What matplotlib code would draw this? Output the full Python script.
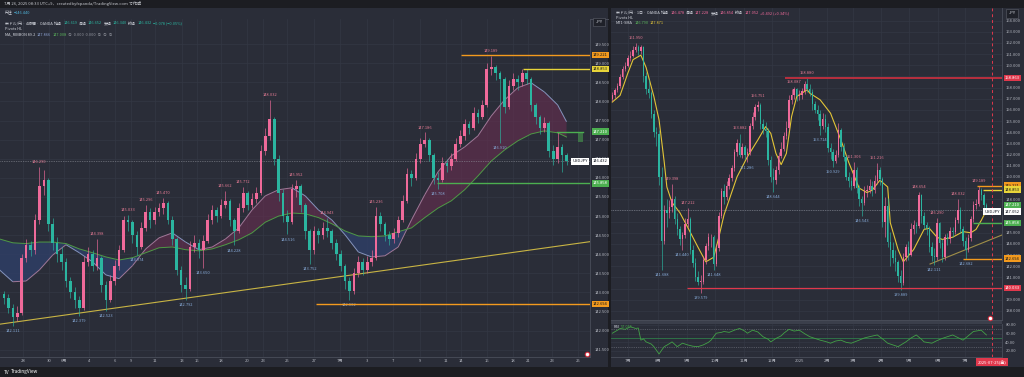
import numpy as np
import matplotlib.pyplot as plt
from matplotlib.collections import LineCollection
from matplotlib.patches import Rectangle
from matplotlib.ticker import FormatStrFormatter

plt.rcParams['font.family'] = ['Noto Sans CJK JP', 'DejaVu Sans']

# ---------------- 4h chart (left) ----------------
left_open0 = 142.95
left_close = [142.85, 142.60, 142.35, 142.45, 143.90, 144.25, 144.10, 144.90, 145.80, 145.95,
              144.80, 144.30, 144.00, 143.80, 143.30, 143.00, 142.80, 142.60, 143.80, 144.00,
              143.70, 143.90, 143.20, 142.80, 143.30, 143.70, 144.10, 144.90, 144.85, 144.50,
              144.20, 144.70, 145.10, 144.90, 145.10, 145.20, 145.35, 144.90, 144.40, 143.60,
              143.20, 143.10, 144.20, 144.30, 144.10, 144.35, 144.90, 145.15, 145.00, 145.30,
              145.40, 144.90, 144.60, 145.20, 145.60, 145.30, 145.45, 145.60, 146.70, 147.10,
              147.55, 146.50, 145.60, 145.00, 144.85, 145.70, 145.80, 145.30, 144.60, 144.10,
              144.60, 144.50, 144.70, 144.60, 144.30, 144.00, 143.70, 143.30, 143.05, 143.50,
              143.80, 143.60, 143.80, 143.90, 145.00, 144.80, 144.50, 144.40, 144.55, 144.90,
              145.40, 146.10, 146.00, 146.50, 146.90, 147.00, 146.60, 146.00, 145.95, 146.40,
              146.30, 146.50, 146.90, 147.10, 147.40, 147.30, 147.70, 147.60, 147.90, 148.85,
              148.90, 148.75, 148.60, 147.85, 148.40, 148.60, 148.50, 148.75, 148.60, 147.90,
              147.60, 147.30, 147.45, 146.70, 146.50, 146.80, 146.60, 146.43]
left_high = [143.05, 142.95, 142.70, 142.65, 144.00, 144.40, 144.35, 145.05, 146.29, 146.20,
             146.00, 144.95, 144.45, 144.20, 143.90, 143.40, 143.15, 142.90, 143.95, 144.20,
             144.10, 144.40, 143.95, 143.30, 143.45, 143.85, 144.25, 145.00, 145.03, 144.90,
             144.60, 144.85, 145.30, 145.20, 145.25, 145.35, 145.47, 145.40, 145.00, 144.45,
             143.70, 143.40, 144.35, 144.50, 144.40, 144.50, 145.05, 145.30, 145.25, 145.45,
             145.66, 145.45, 144.95, 145.35, 145.77, 145.65, 145.60, 145.75, 146.85, 147.30,
             148.03, 147.60, 146.60, 145.70, 145.15, 145.85, 145.95, 145.85, 145.35, 144.65,
             144.75, 144.70, 144.85, 144.94, 144.65, 144.40, 144.10, 143.75, 143.40, 143.65,
             143.95, 143.90, 143.95, 144.10, 145.24, 145.10, 144.85, 144.60, 144.70, 145.00,
             145.55, 146.25, 146.20, 146.65, 147.05, 147.19, 147.05, 146.65, 146.15, 146.55,
             146.50, 146.65, 147.05, 147.25, 147.55, 147.50, 147.85, 147.80, 148.05, 149.00,
             149.19, 148.95, 148.80, 148.65, 148.55, 148.75, 148.70, 148.85, 148.85, 148.65,
             147.95, 147.65, 147.60, 147.50, 146.85, 147.20, 146.90, 146.65]
left_low = [142.70, 142.45, 142.11, 142.25, 142.40, 143.80, 143.95, 144.00, 144.80, 145.55,
            144.60, 144.10, 143.80, 143.60, 143.15, 142.85, 142.60, 142.38, 142.55, 143.70,
            143.55, 143.60, 143.00, 142.52, 142.75, 143.20, 143.60, 144.05, 144.60, 144.30,
            143.97, 144.15, 144.60, 144.70, 144.80, 145.00, 145.05, 144.80, 144.25, 143.45,
            143.00, 142.79, 143.05, 144.05, 143.90, 143.65, 144.30, 144.80, 144.85, 144.95,
            145.20, 144.75, 144.23, 144.55, 145.10, 145.15, 145.20, 145.35, 145.55, 146.60,
            147.00, 146.35, 145.40, 144.85, 144.52, 144.80, 145.50, 145.10, 144.40, 143.75,
            144.00, 144.30, 144.40, 144.45, 144.15, 143.85, 143.55, 143.10, 142.80, 142.95,
            143.40, 143.45, 143.50, 143.70, 143.85, 144.60, 144.35, 144.25, 144.30, 144.45,
            144.85, 145.35, 145.80, 145.95, 146.40, 146.80, 146.45, 145.85, 145.71, 145.90,
            146.15, 146.20, 146.45, 146.80, 147.00, 147.15, 147.25, 147.45, 147.55, 147.85,
            148.70, 148.55, 146.91, 147.70, 147.80, 148.30, 148.30, 148.40, 148.45, 147.75,
            147.40, 147.15, 147.20, 146.55, 146.35, 146.40, 146.15, 146.34]
left_pivot_hi = [(8, 146.290), (21, 144.398), (28, 145.033), (32, 145.296), (36, 145.470),
                 (50, 145.662), (54, 145.772), (60, 148.032), (66, 145.952), (73, 144.943),
                 (84, 145.236), (95, 147.186), (110, 149.189)]
left_pivot_lo = [(2, 142.111), (17, 142.379), (23, 142.523), (30, 143.974), (41, 142.792),
                 (45, 143.650), (52, 144.228), (64, 144.516), (69, 143.752), (78, 142.802),
                 (98, 145.708), (112, 146.910)]
left_ma_pos = [-1, 2, 5, 8, 11, 14, 17, 20, 23, 26, 29, 32, 35, 38, 41, 44, 47, 50, 53, 56, 59, 62,
               65, 68, 71, 74, 77, 80, 83, 86, 89, 92, 95, 98, 101, 104, 107, 110, 113, 116, 119,
               122, 125, 127]
left_ma_fast = [143.59, 143.28, 143.30, 143.59, 143.98, 144.25, 144.04, 143.80, 143.46, 143.36,
                143.70, 144.14, 144.43, 144.56, 144.32, 144.12, 144.19, 144.40, 144.69, 145.16,
                145.53, 145.69, 145.74, 145.53, 145.16, 144.90, 144.51, 144.06, 143.93, 143.96,
                144.19, 144.90, 145.56, 146.16, 146.58, 146.81, 147.10, 147.62, 148.04, 148.36,
                148.49, 148.25, 147.91, 147.47]
left_ma_slow = [144.40, 144.30, 144.28, 144.32, 144.32, 144.28, 144.14, 144.04, 143.93, 143.85,
                143.91, 144.04, 144.17, 144.19, 144.12, 144.09, 144.14, 144.25, 144.38, 144.56,
                144.84, 145.00, 145.08, 145.06, 144.96, 144.80, 144.61, 144.48, 144.46, 144.48,
                144.59, 144.69, 144.96, 145.21, 145.40, 145.69, 146.05, 146.44, 146.73, 146.97,
                147.15, 147.23, 147.18, 147.07]
left_tick_pos = [4.3, 10.2, 13.5, 19.2, 25.1, 28.7, 34.1, 40.2, 43.6, 49.0, 54.9, 58.5, 63.9,
                 70.0, 75.8, 81.9, 87.8, 93.9, 99.8, 103.2, 109.0, 114.9, 118.3, 123.7, 129.6]
left_tick_labels = ['28', '30', '6月', '4', '6', '9', '11', '13', '16', '18', '20', '23', '25',
                    '27', '7月', '3', '7', '9', '11', '14', '16', '18', '21', '23', '25']
left_trend = [(-0.9, 142.17), (132.3, 144.33)]
left_last = 146.432

# ---------------- daily chart (right) ----------------
right_open0 = 157.0
right_close = [157.30, 157.80, 158.10, 158.90, 159.70, 159.90, 160.60, 160.80, 161.40, 161.60,
               161.30, 161.60, 159.00, 157.90, 157.50, 155.60, 154.00, 153.80, 150.00, 144.30,
               147.00, 146.80, 147.30, 148.00, 146.20, 145.30, 144.40, 144.80, 145.80, 146.20,
               143.50, 142.30, 141.00, 140.60, 140.60, 142.60, 143.80, 144.60, 144.60, 142.20,
               143.60, 146.50, 148.70, 148.20, 149.20, 149.90, 150.80, 152.20, 153.00, 152.00,
               152.70, 152.00, 152.20, 154.60, 155.40, 156.30, 156.40, 154.70, 154.30, 154.10,
               151.50, 150.00, 149.70, 150.60, 151.90, 152.50, 153.70, 154.40, 156.90, 157.30,
               157.90, 157.20, 157.30, 157.70, 158.30, 157.90, 157.60, 156.50, 156.00, 155.60,
               154.60, 155.20, 154.50, 152.60, 152.20, 151.40, 152.00, 154.20, 152.70, 151.80,
               150.00, 149.60, 149.20, 150.60, 149.00, 148.00, 147.70, 148.70, 148.80, 149.20,
               148.80, 149.60, 150.60, 149.80, 146.00, 147.40, 144.20, 143.50, 142.70, 142.40,
               141.10, 140.50, 142.80, 143.70, 143.00, 145.30, 145.70, 145.60, 148.40, 146.50,
               145.70, 145.40, 143.70, 142.90, 142.80, 145.90, 144.10, 142.80, 144.60, 144.40,
               145.20, 145.10, 146.10, 147.00, 145.30, 144.30, 143.50, 144.50, 146.20, 147.50,
               147.60, 148.80, 148.40, 147.50, 147.05]
right_high = [157.6, 158.0, 158.4, 159.2, 159.9, 160.3, 160.9, 161.3, 161.7, 161.95,
              161.8, 161.8, 161.7, 159.4, 158.8, 157.7, 156.0, 154.5, 154.2, 150.9,
              147.5, 148.0, 147.9, 149.40, 148.3, 146.8, 145.6, 145.1, 146.3, 147.21,
              146.4, 143.9, 142.7, 141.6, 141.2, 142.9, 144.1, 145.0, 144.9, 144.8,
              144.0, 146.9, 149.0, 149.4, 149.6, 150.3, 151.1, 152.5, 153.4, 153.88,
              153.0, 152.9, 152.6, 154.8, 155.8, 156.5, 156.75, 156.6, 155.2, 154.9,
              154.4, 151.9, 150.8, 151.0, 152.2, 153.1, 154.0, 155.0, 157.3, 157.9,
              158.09, 158.0, 157.8, 158.0, 158.6, 158.88, 158.3, 157.9, 156.8, 156.4,
              156.0, 155.7, 155.6, 154.8, 153.0, 152.5, 152.4, 154.8, 154.4, 153.0,
              152.0, 150.4, 150.0, 151.31, 150.9, 149.3, 148.3, 149.2, 149.3, 149.8,
              149.6, 150.2, 151.21, 150.9, 150.0, 148.2, 148.1, 145.1, 144.2, 143.5,
              142.6, 141.7, 143.2, 144.0, 144.3, 145.9, 146.1, 146.0, 148.65, 148.5,
              146.9, 146.0, 145.6, 144.2, 143.6, 146.29, 146.0, 144.4, 144.9, 145.0,
              145.5, 145.5, 146.4, 148.03, 147.3, 145.6, 144.6, 144.9, 146.5, 147.8,
              148.0, 149.19, 149.0, 148.6, 147.7]
right_low = [156.8, 157.1, 157.6, 158.0, 158.8, 159.5, 159.8, 160.4, 160.7, 161.2,
             160.9, 161.0, 158.5, 157.4, 157.1, 155.3, 153.6, 152.8, 149.3, 141.69,
             144.0, 145.5, 146.3, 146.9, 145.8, 144.8, 143.9, 143.44, 144.5, 145.5,
             143.1, 141.9, 140.7, 140.3, 139.58, 140.4, 142.2, 143.5, 143.7, 141.65,
             142.0, 143.4, 146.3, 147.6, 147.9, 148.9, 149.6, 150.5, 151.9, 151.8,
             151.7, 151.6, 151.29, 152.0, 154.3, 155.1, 155.9, 154.3, 153.8, 153.6,
             151.1, 149.5, 148.64, 149.4, 150.3, 151.7, 152.3, 153.4, 154.2, 156.5,
             157.0, 156.8, 156.9, 157.0, 157.4, 157.6, 157.2, 156.0, 155.7, 155.1,
             153.71, 154.3, 154.0, 152.2, 151.6, 150.93, 151.2, 151.8, 152.3, 151.4,
             149.7, 149.1, 148.8, 149.0, 148.6, 147.4, 146.54, 147.5, 148.2, 148.6,
             148.3, 148.6, 149.4, 149.3, 145.5, 144.6, 143.7, 142.0, 142.3, 141.6,
             140.6, 139.89, 140.3, 142.5, 142.6, 142.9, 144.9, 145.0, 145.4, 145.9,
             145.3, 144.8, 143.3, 142.5, 142.11, 142.6, 143.6, 142.4, 142.6, 143.9,
             144.1, 144.6, 144.9, 145.9, 145.0, 143.8, 142.68, 143.3, 144.3, 146.0,
             147.1, 147.4, 147.9, 146.9, 146.85]
right_pivot_hi = [(9, 161.950), (23, 149.398), (29, 147.212), (49, 153.882), (56, 156.751),
                  (70, 158.087), (75, 158.880), (93, 151.306), (102, 151.216), (118, 148.654),
                  (125, 146.290), (133, 148.032), (141, 149.189)]
right_pivot_lo = [(19, 141.688), (27, 143.440), (34, 139.579), (39, 141.648), (52, 151.286),
                  (62, 148.644), (80, 153.714), (85, 150.929), (96, 146.543), (111, 139.889),
                  (124, 142.111), (136, 142.682)]
right_ma_pos = [0, 3, 6, 8, 11, 13, 16, 18, 20, 21, 23, 26, 29, 33, 36, 39, 41, 43, 48, 52,
                56, 59, 61, 63, 65, 67, 69, 71, 75, 76, 80, 84, 88, 91, 95, 98, 100, 103, 106, 107,
                110, 112, 116, 120, 122, 125, 127, 131, 135, 138, 140, 142, 144]
right_ma = [156.7, 157.3, 159.3, 160.5, 160.9, 159.8, 157.2, 155.1, 151.3, 149.1,
            147.7, 146.8, 145.5, 143.7, 142.4, 142.8, 144.6, 146.6, 150.0, 151.8,
            153.3, 154.5, 153.9, 152.1, 151.1, 152.1, 155.4, 157.2, 157.8, 157.5,
            156.9, 155.7, 153.3, 151.3, 149.0, 148.6, 148.8, 149.7, 149.1, 145.9,
            143.5, 142.4, 143.5, 145.3, 145.4, 144.6, 144.4, 144.6, 145.1, 145.0,
            145.3, 146.1, 147.0]
rsi_pos = [0, 2, 3, 5, 7, 9, 10, 11, 12, 13, 15, 16, 18, 19, 20, 22, 23, 25, 27, 29,
           31, 33, 35, 37, 38, 40, 42, 43, 45, 47, 49, 51, 52, 54, 56, 58, 60, 61, 63, 65,
           66, 68, 70, 72, 74, 76, 78, 80, 82, 84, 86, 88, 90, 92, 95, 97, 99, 102, 104, 106,
           108, 110, 113, 115, 117, 119, 120, 123, 125, 127, 129, 131, 133, 135, 137, 139, 142,
           144]
rsi_val = [61, 68, 72, 70, 76, 72, 73, 45, 48, 41, 36, 30, 13, 22, 30, 37, 41, 30, 38, 34,
           31, 30, 34, 40, 45, 61, 63, 65, 63, 68, 72, 66, 61, 68, 64, 53, 47, 41, 49, 55,
           61, 70, 66, 68, 60, 53, 49, 45, 42, 38, 43, 45, 40, 38, 45, 50, 53, 57, 48, 38,
           34, 30, 41, 50, 57, 47, 41, 38, 44, 49, 53, 57, 51, 45, 55, 65, 68, 57]
right_tick_pos = [6.2, 17.7, 28.8, 39.6, 50.8, 61.5, 71.9, 82.7, 92.7, 103.5, 114.2, 125.4, 135.8]
right_tick_labels = ['7月', '8月', '9月', '10月', '11月', '12月', '2025', '2月', '3月', '4月',
                     '5月', '6月', '7月']
right_trend = [(122.3, 142.20), (150.0, 144.80)]
right_last = 147.052
today_pos = 146.2

# shared horizontal drawings
lvl_orange_hi = 149.221
lvl_yellow = 148.853
lvl_green_hi = 147.210
lvl_green_lo = 145.858
lvl_orange_lo = 142.694
lvl_red_hi = 158.863
lvl_red_lo = 140.033

# ---------------- style ----------------
W, H = 1024, 377
BG = '#2a2d38'
GRID = '#343844'
AXIS = '#4a4e5a'
TXT = '#b2b5be'
UP = '#ef6a9a'
DOWN = '#2bb5a0'
HI_C = '#e27a93'
LO_C = '#86a9d6'
ORANGE = '#f39a1e'
YELLOW = '#e8d53a'
GREEN = '#4caf50'
RED = '#e0384c'
WHITE_TXT = '#d1d4dc'

fig = plt.figure(figsize=(W / 100, H / 100), dpi=100)
fig.patch.set_facecolor(BG)


def px_axes(x0, y0, x1, y1, z=1):
    ax = fig.add_axes([x0 / W, 1 - y1 / H, (x1 - x0) / W, (y1 - y0) / H])
    ax.set_zorder(z)
    return ax


def style_ax(ax, xlim, ylim, xpos, xlabels, yticks, fmt, ypad):
    ax.set_facecolor(BG)
    ax.set_xlim(*xlim)
    ax.set_ylim(*ylim)
    for s in ['top', 'left']:
        ax.spines[s].set_visible(False)
    for s in ['right', 'bottom']:
        ax.spines[s].set_color(AXIS)
        ax.spines[s].set_linewidth(0.6)
    ax.yaxis.tick_right()
    ax.set_yticks(yticks)
    ax.yaxis.set_major_formatter(FormatStrFormatter(fmt))
    ax.set_xticks(xpos)
    ax.set_xticklabels(xlabels)
    ax.tick_params(length=0, labelsize=3.0, colors=TXT)
    ax.tick_params(axis='y', pad=ypad)
    ax.tick_params(axis='x', pad=1.6)
    ax.grid(color=GRID, lw=0.5)
    ax.set_axisbelow(True)


def draw_candles(ax, open0, close, high, low, width, minh):
    c = np.array(close)
    o = np.concatenate([[open0], c[:-1]])
    x = np.arange(len(c))
    col = np.where(c >= o, UP, DOWN)
    ax.vlines(x, low, high, colors=col, lw=0.45, zorder=4)
    ax.bar(x, np.maximum(np.abs(c - o), minh), width, bottom=np.minimum(o, c),
           color=col, lw=0, zorder=5)


def draw_pivots(ax, his, los):
    for i, v in his:
        ax.annotate(f'{v:.3f}', (i, v), xytext=(0, 2.2), textcoords='offset points',
                    ha='center', va='bottom', fontsize=2.9, color=HI_C, zorder=6)
    for i, v in los:
        ax.annotate(f'{v:.3f}', (i, v), xytext=(0, -2.2), textcoords='offset points',
                    ha='center', va='top', fontsize=2.9, color=LO_C, zorder=6)


def tag(ax, y, s, fc, tc, dy=0, dx=2.2, ha='left'):
    ax.annotate(s, xy=(1, y), xycoords=ax.get_yaxis_transform(), xytext=(dx, dy),
                textcoords='offset points', ha=ha, va='center', fontsize=3.0, color=tc,
                bbox=dict(boxstyle='square,pad=0.3', fc=fc, ec='none'),
                annotation_clip=False, zorder=20)


def hline(ax, y, x0, color, lw):
    ax.plot([x0, ax.get_xlim()[1]], [y, y], color=color, lw=lw, zorder=7, solid_capstyle='butt')


# background strips
under = px_axes(0, 0, W, H, z=0)
under.set_xlim(0, W)
under.set_ylim(H, 0)
under.axis('off')
under.add_patch(Rectangle((0, 0), W, 8, fc='#1c1d22', ec='none'))
under.add_patch(Rectangle((0, 367), W, 10, fc='#1c1d21', ec='none'))
under.add_patch(Rectangle((607.5, 8), 3.5, 359, fc='#1c1d22', ec='none'))
under.plot([0, 607.5], [18.5, 18.5], color=AXIS, lw=0.7)
under.add_patch(Rectangle((611, 320), 391, 4, fc='#3b3f4b', ec='none'))

# ---------------- left chart ----------------
axl = px_axes(0, 19, 590, 357)
style_ax(axl, (-0.9, 132.3), (141.31, 150.16), left_tick_pos, left_tick_labels,
         np.arange(141.5, 149.51, 0.5), '%.3f', 3.6)

fast = np.array(left_ma_fast)
slow = np.array(left_ma_slow)
axl.fill_between(left_ma_pos, fast, slow, where=fast >= slow, interpolate=True,
                 color='#6e2e52', alpha=0.55, lw=0, zorder=2)
axl.fill_between(left_ma_pos, fast, slow, where=fast < slow, interpolate=True,
                 color='#2f3f68', alpha=0.8, lw=0, zorder=2)
pts = np.column_stack([left_ma_pos, fast])
segs = np.stack([pts[:-1], pts[1:]], axis=1)
seg_col = np.where(np.diff(fast) >= 0, '#a07898', '#8594bd')
axl.add_collection(LineCollection(segs, colors=seg_col, lw=0.7, zorder=3))
axl.plot(left_ma_pos, slow, color='#4f9a45', lw=0.7, zorder=3)

axl.axline(left_trend[0], left_trend[1], color='#c8b444', lw=0.8, zorder=3)
draw_candles(axl, left_open0, left_close, left_high, left_low, 0.6, 0.02)
draw_pivots(axl, left_pivot_hi, left_pivot_lo)

axl.axhline(left_last, color='#9598a1', lw=0.5, ls=(0, (1, 1.5)), zorder=3)
hline(axl, lvl_orange_hi, 103.2, ORANGE, 1.0)
hline(axl, lvl_yellow, 117.2, YELLOW, 1.0)
axl.plot([124.8, 130.7], [lvl_green_hi, lvl_green_hi], color=GREEN, lw=1.0, zorder=7)
axl.add_patch(Rectangle((129.5, 146.95), 1.2, lvl_green_hi - 146.95, fc=GREEN, alpha=0.5,
                        ec='none', zorder=7))
hline(axl, lvl_green_lo, 97.7, GREEN, 1.0)
hline(axl, lvl_orange_lo, 70.4, ORANGE, 1.0)

tag(axl, lvl_orange_hi, f'{lvl_orange_hi:.3f}', ORANGE, '#1a1a1a')
tag(axl, lvl_yellow, f'{lvl_yellow:.3f}', YELLOW, '#1a1a1a')
tag(axl, lvl_green_hi, f'{lvl_green_hi:.3f}', GREEN, 'white')
tag(axl, left_last, f'{left_last:.3f}', 'white', '#131722')
tag(axl, left_last, 'USDJPY', 'white', '#131722', dx=-1.5, ha='right')
tag(axl, lvl_green_lo, f'{lvl_green_lo:.3f}', GREEN, 'white')
tag(axl, lvl_orange_lo, f'{lvl_orange_lo:.3f}', ORANGE, '#1a1a1a')

# ---------------- right chart ----------------
axr = px_axes(611, 8, 1002, 320)
style_ax(axr, (-0.5, 150.0), (137.19, 165.12), right_tick_pos, [],
         np.arange(138, 164.5, 1.0), '%.3f', 2.4)

axr.plot(right_ma_pos, right_ma, color='#e2c437', lw=0.8, zorder=3)
axr.plot([p[0] for p in right_trend], [p[1] for p in right_trend], color='#a08f48', lw=0.8,
         zorder=3)
draw_candles(axr, right_open0, right_close, right_high, right_low, 0.55, 0.06)
draw_pivots(axr, right_pivot_hi, right_pivot_lo)

axr.axhline(right_last, color='#9598a1', lw=0.5, ls=(0, (1, 1.5)), zorder=3)
hline(axr, lvl_red_hi, 66.5, '#b8303f', 1.4)
hline(axr, lvl_red_lo, 28.8, RED, 0.9)
hline(axr, lvl_orange_hi, 140.4, ORANGE, 1.0)
hline(axr, lvl_yellow, 142.7, YELLOW, 1.0)
hline(axr, lvl_green_lo, 138.8, GREEN, 1.0)
hline(axr, lvl_orange_lo, 135.0, ORANGE, 1.0)
axr.axvline(today_pos, color=RED, lw=0.7, ls=(0, (3, 3)), zorder=8)

tag(axr, lvl_red_hi, f'{lvl_red_hi:.3f}', RED, 'white')
tag(axr, lvl_orange_hi, f'{lvl_orange_hi:.3f}', ORANGE, '#1a1a1a')
tag(axr, lvl_yellow, f'{lvl_yellow:.3f}', YELLOW, '#1a1a1a')
tag(axr, lvl_green_hi, f'{lvl_green_hi:.3f}', GREEN, 'white', dy=2.2)
tag(axr, right_last, f'{right_last:.3f}', 'white', '#131722', dy=-1.2)
tag(axr, right_last, 'USDJPY', 'white', '#131722', dx=-1.5, dy=-1.2, ha='right')
tag(axr, lvl_green_lo, f'{lvl_green_lo:.3f}', GREEN, 'white')
tag(axr, lvl_orange_lo, f'{lvl_orange_lo:.3f}', ORANGE, '#1a1a1a')
tag(axr, lvl_red_lo, f'{lvl_red_lo:.3f}', RED, 'white')

# RSI pane
axs = px_axes(611, 324, 1002, 357)
style_ax(axs, (-0.5, 150.0), (6.1, 82.3), right_tick_pos, right_tick_labels,
         [20, 40, 60, 80], '%.2f', 2.4)
axs.axhline(70, color='#787b86', lw=0.4, ls=(0, (2, 2)))
axs.axhline(30, color='#787b86', lw=0.4, ls=(0, (2, 2)))
axs.axhline(50, color='#2f7d4a', lw=0.6)
axs.plot(rsi_pos, rsi_val, color='#43a047', lw=0.6, zorder=3)
axs.axvline(today_pos, color=RED, lw=0.7, ls=(0, (3, 3)), zorder=8)
axs.annotate('2025-07-25(金)', xy=(today_pos, 0), xycoords=axs.get_xaxis_transform(),
             xytext=(0, -3.6), textcoords='offset points', ha='center', va='center',
             fontsize=3.0, color='white', bbox=dict(boxstyle='square,pad=0.35', fc=RED, ec='none'),
             annotation_clip=False, zorder=20)

# ---------------- overlay texts ----------------
ov = px_axes(0, 0, W, H, z=10)
ov.set_xlim(0, W)
ov.set_ylim(H, 0)
ov.axis('off')


def chain(x, y, parts, size=2.8, gap=1.0):
    # each piece starts right after the previous one
    prev = None
    for s, c in parts:
        if prev is None:
            prev = ov.text(x, y, s, color=c, fontsize=size, va='center', ha='left')
        else:
            prev = ov.annotate(s, xy=(1, 0.5), xycoords=prev, xytext=(gap, 0),
                               textcoords='offset points', va='center', ha='left',
                               color=c, fontsize=size)


chain(4, 4, [('7月 26, 2025 08:33 UTC+9、createdbyfxpanda/TradingView.com で作成', '#c9cbd1')],
      size=3.0)
chain(5, 13, [('円注', WHITE_TXT), ('−146.440', '#4fb3d9')])
chain(5, 23.5, [('米ドル/円 · 4時間 · OANDA', WHITE_TXT), ('始値', WHITE_TXT), ('146.619', DOWN),
                ('高値', WHITE_TXT), ('146.652', DOWN), ('安値', WHITE_TXT), ('146.340', DOWN),
                ('終値', WHITE_TXT), ('146.432', DOWN), ('−0.078 (−0.05%)', DOWN)])
chain(5, 29, [('Pivots HL', WHITE_TXT)])
chain(5, 34.5, [('MA_RIBBON 89.2', WHITE_TXT), ('147.866', '#8fa5d6'), ('147.008', '#5cb85c'),
                ('∅  0.000  0.000  ∅  ∅  ∅', '#9598a1')])
chain(616, 13, [('米ドル/円 · 1日 · OANDA', WHITE_TXT), ('始値', WHITE_TXT), ('146.478', UP),
                ('高値', WHITE_TXT), ('147.228', UP), ('安値', WHITE_TXT), ('146.854', UP),
                ('終値', WHITE_TXT), ('147.052', UP), ('+0.492 (+0.34%)', UP)])
chain(616, 18, [('Pivots HL', WHITE_TXT)])
chain(616, 23, [('MT1-SMA', WHITE_TXT), ('146.790', '#5cb85c'), ('147.871', '#e2c437')])
chain(614, 326.5, [('RSI', WHITE_TXT), ('57.055', '#43a047')])

for x, y in [(599, 22), (1012, 13.5)]:
    ov.text(x, y, 'JPY', color=WHITE_TXT, fontsize=3.0, ha='center', va='center',
            bbox=dict(boxstyle='square,pad=0.5', fc='#1f2129', ec='#5d606b', lw=0.4))

chain(4, 372, [('TV', 'white'), ('TradingView', 'white')], size=3.4, gap=0.8)
ov.scatter([587, 990], [354, 318], s=9, color='#d32f3f', zorder=12)
ov.scatter([587, 990], [354, 318], s=2, color='white', zorder=13)

fig.savefig('out.png', dpi=100, facecolor=fig.get_facecolor())
